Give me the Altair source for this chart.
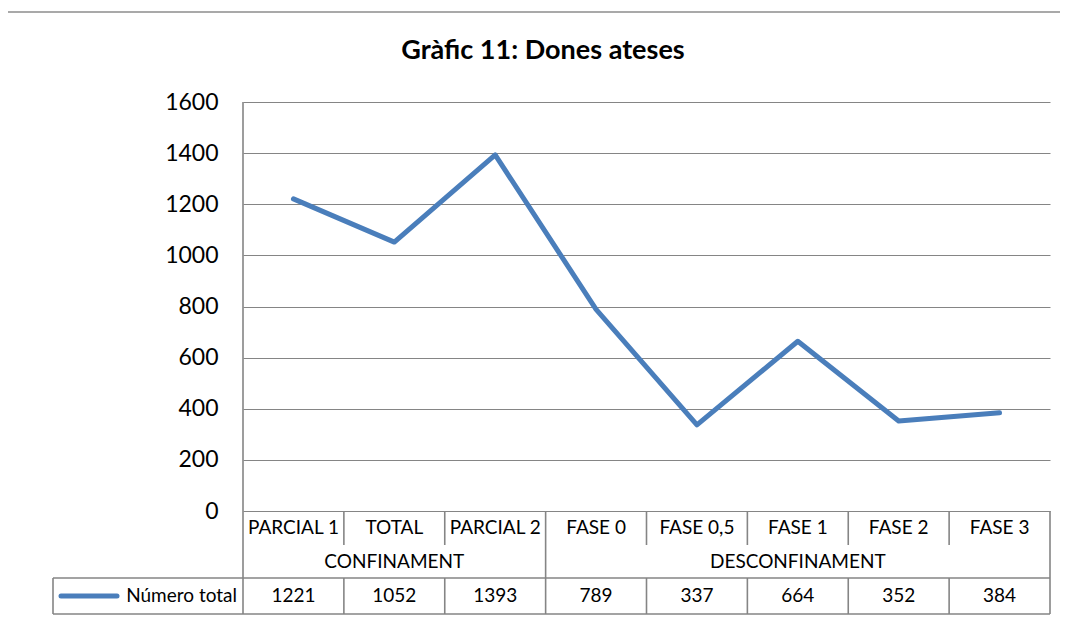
import altair as alt
import pandas as pd

# ---- data ----
title_text = "Gràfic 11: Dones ateses"
categories = ["PARCIAL 1", "TOTAL", "PARCIAL 2", "FASE 0", "FASE 0,5", "FASE 1", "FASE 2", "FASE 3"]
groups = ["CONFINAMENT", "CONFINAMENT", "CONFINAMENT",
          "DESCONFINAMENT", "DESCONFINAMENT", "DESCONFINAMENT", "DESCONFINAMENT", "DESCONFINAMENT"]
values = [1221, 1052, 1393, 789, 337, 664, 352, 384]
series_name = "Número total"
y_ticks = [0, 200, 400, 600, 800, 1000, 1200, 1400, 1600]

# ---- tables built from the arrays ----
n = len(categories)
df = pd.DataFrame({
    "cat": categories,
    "grp": groups,
    "value": values,
    "center": [i + 0.5 for i in range(n)],
    "label": [str(v) for v in values],
})

# group spans
grp_rows = []
start = 0
for i in range(1, n + 1):
    if i == n or groups[i] != groups[start]:
        grp_rows.append({"grp": groups[start], "start": start, "end": i, "mid": (start + i) / 2})
        start = i
gdf = pd.DataFrame(grp_rows)
group_bounds = set(gdf["start"].tolist()) | set(gdf["end"].tolist())
inner_bounds = pd.DataFrame({"b": [b for b in range(1, n) if b not in group_bounds]})
major_bounds = pd.DataFrame({"b": sorted(b for b in group_bounds if b != 0)})
one = pd.DataFrame({"t": [title_text], "s": [series_name]})

# ---- layout (pixels) ----
W, H = 807, 409
ROW1_B = H + 34
ROW2_B = ROW1_B + 33
ROW3_B = ROW2_B + 36
LEG_L = -190
FONT = "Lato"
GRID = "#858585"
LINE_C = "#4A7EBB"
TXT = 19

xscale = alt.Scale(domain=[0, n], nice=False, zero=False)
X = lambda f: alt.X(f, type="quantitative", scale=xscale, axis=None)

base = alt.Chart(df)

line = base.mark_line(color=LINE_C, strokeWidth=5, strokeCap="round", strokeJoin="round").encode(
    x=X("center"),
    y=alt.Y("value:Q",
            scale=alt.Scale(domain=[0, 1600], nice=False),
            axis=alt.Axis(values=y_ticks, format="d", grid=True, gridColor=GRID, gridWidth=1.2,
                          domain=False, ticks=False, labelFont=FONT, labelFontSize=23,
                          labelColor="black", labelPadding=25, title=None)),
)

cat_text = base.mark_text(font=FONT, fontSize=TXT, color="black").encode(
    x=X("center"), y=alt.value((H + ROW1_B) / 2), text="cat:N")
val_text = base.mark_text(font=FONT, fontSize=TXT, color="black").encode(
    x=X("center"), y=alt.value((ROW2_B + ROW3_B) / 2), text="label:N")
grp_text = alt.Chart(gdf).mark_text(font=FONT, fontSize=TXT, color="black").encode(
    x=X("mid"), y=alt.value((ROW1_B + ROW2_B) / 2), text="grp:N")

inner_r1 = alt.Chart(inner_bounds).mark_rule(color=GRID, strokeWidth=1.6).encode(
    x=X("b"), y=alt.value(H), y2=alt.value(ROW1_B))
inner_r3 = alt.Chart(inner_bounds).mark_rule(color=GRID, strokeWidth=1.6).encode(
    x=X("b"), y=alt.value(ROW2_B), y2=alt.value(ROW3_B))
major = alt.Chart(major_bounds).mark_rule(color=GRID, strokeWidth=1.6).encode(
    x=X("b"), y=alt.value(H), y2=alt.value(ROW3_B))

o = alt.Chart(one)
left_line = o.mark_rule(color=GRID, strokeWidth=1.6).encode(
    x=alt.value(0), y=alt.value(0), y2=alt.value(ROW3_B))
h_top3 = o.mark_rule(color=GRID, strokeWidth=1.6).encode(
    x=alt.value(LEG_L), x2=alt.value(W), y=alt.value(ROW2_B))
h_bot3 = o.mark_rule(color=GRID, strokeWidth=1.6).encode(
    x=alt.value(LEG_L), x2=alt.value(W), y=alt.value(ROW3_B))
leg_left = o.mark_rule(color=GRID, strokeWidth=1.6).encode(
    x=alt.value(LEG_L), y=alt.value(ROW2_B), y2=alt.value(ROW3_B))
swatch = o.mark_rule(color=LINE_C, strokeWidth=5, strokeCap="round").encode(
    x=alt.value(LEG_L + 8), x2=alt.value(LEG_L + 64), y=alt.value((ROW2_B + ROW3_B) / 2))
leg_text = o.mark_text(font=FONT, fontSize=TXT, color="black", align="right").encode(
    x=alt.value(-6), y=alt.value((ROW2_B + ROW3_B) / 2), text="s:N")

outer_left = o.mark_rule(color="#8c8c8c", strokeWidth=1.5).encode(
    x=alt.value(-238), y=alt.value(-90), y2=alt.value(ROW3_B + 20))
outer_top = o.mark_rule(color="#8c8c8c", strokeWidth=1.5).encode(
    x=alt.value(-238), x2=alt.value(W + 20), y=alt.value(-90))

title = o.mark_text(font=FONT, fontSize=27, fontWeight="bold", color="black").encode(
    x=alt.value(300), y=alt.value(-51), text="t:N")

chart = alt.layer(
    outer_left, outer_top, title,
    line, left_line, inner_r1, inner_r3, major, h_top3, h_bot3, leg_left,
    cat_text, grp_text, val_text, swatch, leg_text,
).properties(
    width=W, height=H,
    autosize=alt.AutoSizeParams(type="none"),
    padding={"left": 235, "top": 94, "right": 10, "bottom": 104},
    background="white",
).configure_view(stroke=None)

chart.save("out.html", embed_options={"renderer": "svg", "actions": False})
